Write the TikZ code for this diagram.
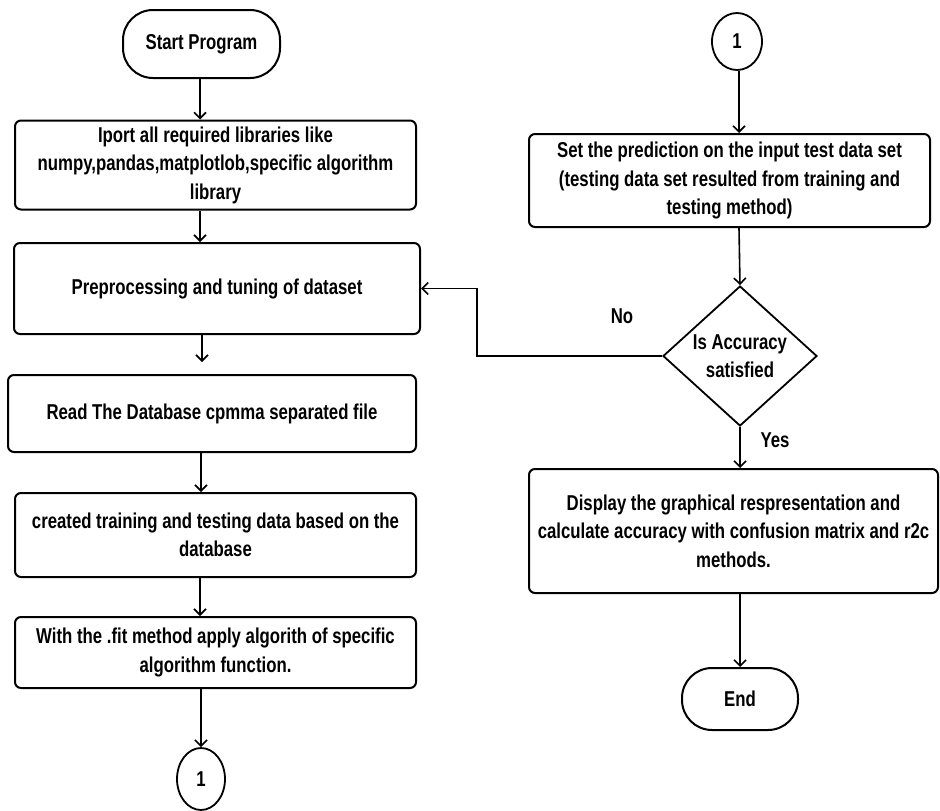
\documentclass[tikz,border=0pt]{standalone}
\usepackage{fontspec}
\setmainfont{Liberation Sans}[FakeStretch=0.78]
\usetikzlibrary{arrows.meta,shapes.geometric}
\begin{document}
\begin{tikzpicture}[x=1pt,y=-1pt,
  every node/.style={font=\bfseries\fontsize{21.5}{28.5}\selectfont, align=center, inner sep=0pt},
  proc/.style={draw, line width=2pt, rounded corners=6pt},
  term/.style={draw, line width=2pt, rounded corners=30pt},
  conn/.style={draw, ellipse, line width=1.8pt},
  dec/.style={draw, diamond, line width=1.8pt, aspect=1.1},
  arr/.style={line width=1.6pt, -{Straight Barb[length=6pt,width=12pt,line width=1.6pt]}},
  lbl/.style={font=\bfseries\fontsize{21.5}{24}\selectfont}]
\useasboundingbox (0,0) rectangle (940,811);
% left column
\node[term, minimum width=157pt, minimum height=68pt] (start) at (201.5,44) {Start Program};
\node[proc, minimum width=401pt, minimum height=89pt] (b1) at (215.5,165) {Iport all required libraries like\\numpy,pandas,matplotlob,specific algorithm\\library};
\node[proc, minimum width=406pt, minimum height=91pt] (b2) at (217,288.5) {Preprocessing and tuning of dataset};
\node[proc, minimum width=408pt, minimum height=77pt] (b3) at (212,413.5) {Read The Database cpmma separated file};
\node[proc, minimum width=401pt, minimum height=84pt] (b4) at (215.5,535) {created training and testing data based on the\\database};
\node[proc, minimum width=401pt, minimum height=71pt] (b5) at (215.5,652.5) {With the .fit method apply algorith of specific\\algorithm function.};
\node[conn, minimum width=48pt, minimum height=62pt] (c1) at (201,779) {1};
% right column
\node[conn, minimum width=50pt, minimum height=57pt] (c2) at (737,41.5) {1};
\node[proc, minimum width=401pt, minimum height=93pt] (r1) at (729.5,180.5) {Set the prediction on the input test data set\\(testing data set resulted from training and\\testing method)};
\node[dec, minimum width=154pt, minimum height=140pt] (d) at (740,356) {Is Accuracy\\satisfied};
\node[proc, minimum width=409pt, minimum height=124pt] (r2) at (733.5,531) {Display the graphical respresentation and\\calculate accuracy with confusion matrix and r2c\\methods.};
\node[term, minimum width=116pt, minimum height=62pt] (end) at (740,699) {End};
% labels
\node[lbl] (no) at (622,316) {No};
\node[lbl] (yes) at (775,440) {Yes};
% connectors left
\draw[arr] (start.south -| 200,0) -- (b1.north -| 200,0);
\draw[arr] (b1.south -| 200,0) -- (b2.north -| 200,0);
\draw[arr] (b2.south -| 202,0) -- (202,362);
\draw[arr] (b3.south -| 201,0) -- (b4.north -| 201,0);
\draw[arr] (b4.south -| 200,0) -- (b5.north -| 200,0);
\draw[arr] (b5.south -| 201,0) -- (c1.north);
% connectors right
\draw[arr] (c2.south -| 739,0) -- (r1.north -| 739,0);
\draw[arr] (r1.south -| 739,0) -- (d.north);
\draw[arr] (d.south) -- (r2.north -| d.south);
\draw[arr] (r2.south -| end.north) -- (end.north);
\draw[arr] (d.west) -- ++(-185,0) |- (b2.east);
\end{tikzpicture}
\end{document}
